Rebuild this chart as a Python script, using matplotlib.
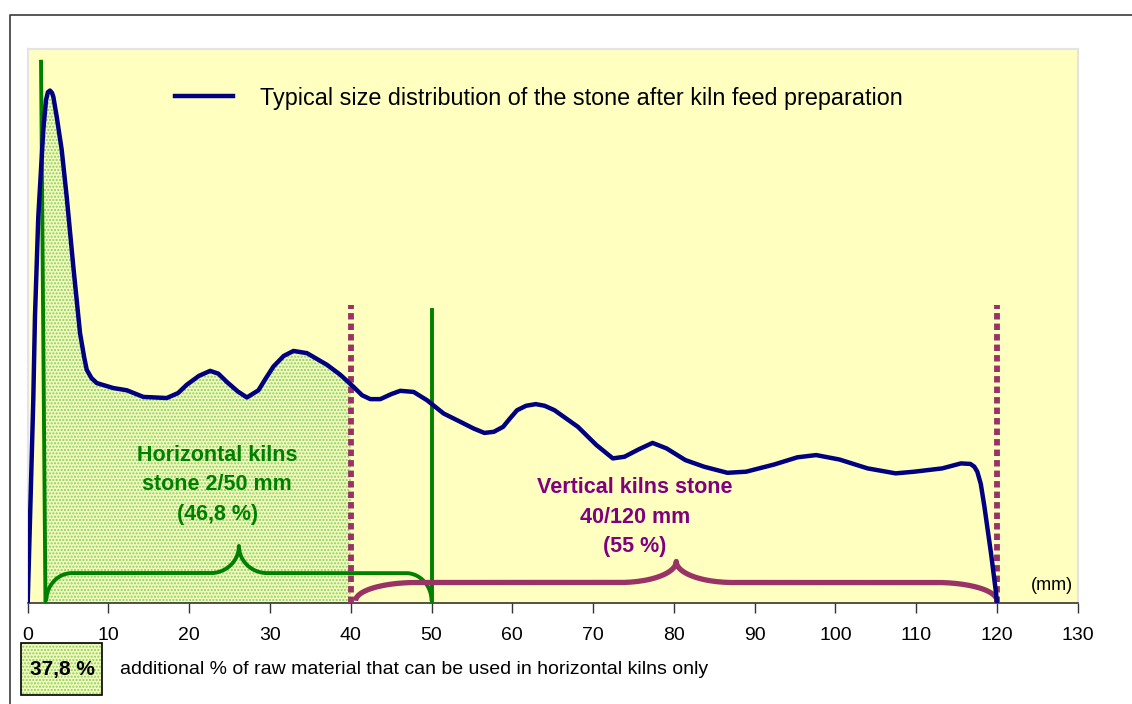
import numpy as np
import matplotlib.pyplot as plt
from matplotlib.lines import Line2D
from matplotlib.patches import Rectangle

plt.rcParams["font.family"] = ["Liberation Sans", "DejaVu Sans"]
plt.rcParams["hatch.linewidth"] = 1.0

# size of the stone (mm) and relative share (arbitrary units, axis height = 100)
size_mm = [0.0, 0.69, 0.9, 1.31, 1.93, 2.27, 2.5, 2.76, 3.0, 3.17, 3.59, 4.21,
           4.83, 5.65, 6.48, 7.0, 7.31, 7.9, 8.55, 10.6, 12.27, 14.32, 17.22,
           18.62, 19.7, 21.2, 22.59, 23.6, 24.66, 26.0, 27.14, 28.57, 29.5,
           30.43, 31.7, 32.91, 34.57, 37.05, 38.7, 40.35, 41.4, 42.42, 43.66,
           45.0, 46.13, 47.78, 49.44, 51.5, 53.57, 55.2, 56.54, 57.71, 58.86,
           59.7, 60.59, 61.7, 62.91, 64.0, 65.22, 68.12, 70.42, 72.45, 73.89,
           75.6, 77.36, 79.1, 81.42, 83.74, 86.63, 88.95, 92.42, 95.3, 97.62,
           100.5, 103.98, 107.46, 109.76, 113.23, 115.55, 116.72, 117.2,
           117.57, 118.0, 118.45, 119.32, 119.89, 120.0]
share = [0.0, 36.6, 51.7, 69.7, 85.4, 90.8, 92.2, 92.5, 92.1, 91.4, 87.8, 81.8,
         73.3, 60.7, 48.7, 44.3, 42.1, 40.6, 39.7, 38.8, 38.4, 37.2, 37.0,
         37.9, 39.4, 41.0, 41.9, 41.4, 39.9, 38.2, 37.1, 38.4, 40.6,
         42.7, 44.6, 45.5, 45.1, 43.0, 41.2, 39.0, 37.5, 36.8, 36.8,
         37.7, 38.3, 38.1, 36.6, 34.2, 32.7, 31.5, 30.7, 30.9, 31.8,
         33.3, 34.8, 35.6, 35.9, 35.6, 34.8, 31.8, 28.5, 26.1, 26.4,
         27.7, 28.9, 27.9, 25.8, 24.6, 23.5, 23.7, 25.0, 26.3, 26.7,
         25.9, 24.3, 23.4, 23.7, 24.3, 25.2, 25.1, 24.6,
         23.7, 21.5, 17.4, 8.4, 1.8, 0.0]

x_ticks = list(range(0, 131, 10))

# kiln feed ranges (mm)
horizontal_range = [2.0, 50.0]
vertical_range = [40.0, 120.0]
extra_range = [2.0, 40.0]

horizontal_label = "Horizontal kilns\nstone 2/50 mm\n(46,8 %)"
vertical_label = "Vertical kilns stone\n40/120 mm\n(55 %)"
extra_share = "37,8 %"
extra_text = "additional % of raw material that can be used in horizontal kilns only"
legend_text = "Typical size distribution of the stone after kiln feed preparation"

BLUE = "#000080"
GREEN = "#008000"
PLUM = "#993366"
PURPLE = "#800080"
YELLOW = "#ffffc0"
HATCH_BG = "#f4fabc"
HATCH = "#86cf62"


def brace(ax, x0, x1, base, flat, tip, end_w, cusp_w, **kw):
    mid = (x0 + x1) / 2
    t = np.linspace(0, np.pi / 2, 40)
    lx = x0 + end_w * (1 - np.cos(t))
    ly = base + (flat - base) * np.sin(t)
    cx = mid - cusp_w + cusp_w * np.sin(t)
    cy = flat + (tip - flat) * (1 - np.cos(t))
    xs = np.concatenate([lx, cx, (2 * mid - cx)[::-1], (x1 - (lx - x0))[::-1]])
    ys = np.concatenate([ly, cy, cy[::-1], ly[::-1]])
    ax.plot(xs, ys, solid_capstyle="butt", **kw)


fig = plt.figure(figsize=(11.32, 7.04), dpi=100)
ax = fig.add_axes([27.7 / 1132, 1 - 603 / 704, 1050 / 1132, 554 / 704])
ax.set_facecolor(YELLOW)
ax.set_xlim(0, 130)
ax.set_ylim(0, 100)

# hatched area: stone usable only in horizontal kilns
xs = np.array(size_mm)
inner = xs[(xs > extra_range[0]) & (xs < extra_range[1])]
x_fill = np.concatenate([[extra_range[0]], inner, [extra_range[1]]])
y_fill = np.interp(x_fill, size_mm, share)
ax.fill_between(x_fill, 0, y_fill, facecolor=HATCH_BG, edgecolor=HATCH,
                hatch=".....", linewidth=0, zorder=1)

# range limits
ax.plot([horizontal_range[0] - 0.35, horizontal_range[0] + 0.2], [97.7, 0],
        color=GREEN, lw=2.8, zorder=3)
ax.plot([horizontal_range[1]] * 2, [0, 52.9], color=GREEN, lw=2.8, zorder=3)
for x in vertical_range:
    ax.plot([x, x], [0, 53.8], color=PLUM, lw=4.2, dashes=(1.1, 0.7),
            dash_capstyle="butt", zorder=3)

# braces
brace(ax, horizontal_range[0] + 0.3, horizontal_range[1], 0.4, 5.4, 10.3,
      3.2, 3.5, color=GREEN, lw=2.8, zorder=4)
brace(ax, vertical_range[0] + 0.6, vertical_range[1], 0.4, 3.7, 7.5,
      7.5, 7.0, color=PLUM, lw=3.8, zorder=4)

ax.plot(size_mm, share, color=BLUE, lw=3.2, solid_joinstyle="round", zorder=5)

ax.text(23.45, 21.3, horizontal_label, color=GREEN, fontsize=15.5,
        fontweight="bold", ha="center", va="center", linespacing=1.52, zorder=6)
ax.text(75.2, 15.5, vertical_label, color=PURPLE, fontsize=15.5,
        fontweight="bold", ha="center", va="center", linespacing=1.52, zorder=6)
ax.text(129.4, 3.2, "(mm)", fontsize=13, ha="right", va="center")

handle = Line2D([], [], color=BLUE, lw=3.2)
ax.legend([handle], [legend_text], loc="center left", frameon=False,
          bbox_to_anchor=((175 - 27.7) / 1050, (603 - 98) / 554),
          fontsize=16.8, handlelength=2.5, handletextpad=1.15,
          borderpad=0, borderaxespad=0)

ax.set_xticks(x_ticks)
ax.set_yticks([])
ax.tick_params(axis="x", direction="out", length=7, width=1, labelsize=14,
               pad=10, color="#333333")
for side in ["top", "left", "right"]:
    ax.spines[side].set_color("#e4e4e4")
    ax.spines[side].set_linewidth(1.5)
ax.spines["bottom"].set_color("#333333")
ax.spines["bottom"].set_linewidth(1.2)

# note below the axis
box = (21 / 1132, 1 - 695 / 704)
fig.patches.append(Rectangle(box, 81 / 1132, 52 / 704,
                             transform=fig.transFigure, facecolor=HATCH_BG,
                             edgecolor=HATCH, hatch=".....", linewidth=0))
fig.patches.append(Rectangle(box, 81 / 1132, 52 / 704,
                             transform=fig.transFigure, facecolor="none",
                             edgecolor="black", linewidth=1.2))
fig.text(62 / 1132, 1 - 669 / 704, extra_share, fontsize=15, fontweight="bold",
         ha="center", va="center")
fig.text(120 / 1132, 1 - 670 / 704, extra_text, fontsize=14, ha="left",
         va="center")

# outer frame (runs off the right and bottom edges)
fx, fy = 10 / 1132, 1 - 15 / 704
fig.add_artist(Line2D([fx, fx, 1.0], [0.0, fy, fy], transform=fig.transFigure,
                      color="#3a3a3a", lw=1.2))

fig.savefig("out.png", dpi=100)
